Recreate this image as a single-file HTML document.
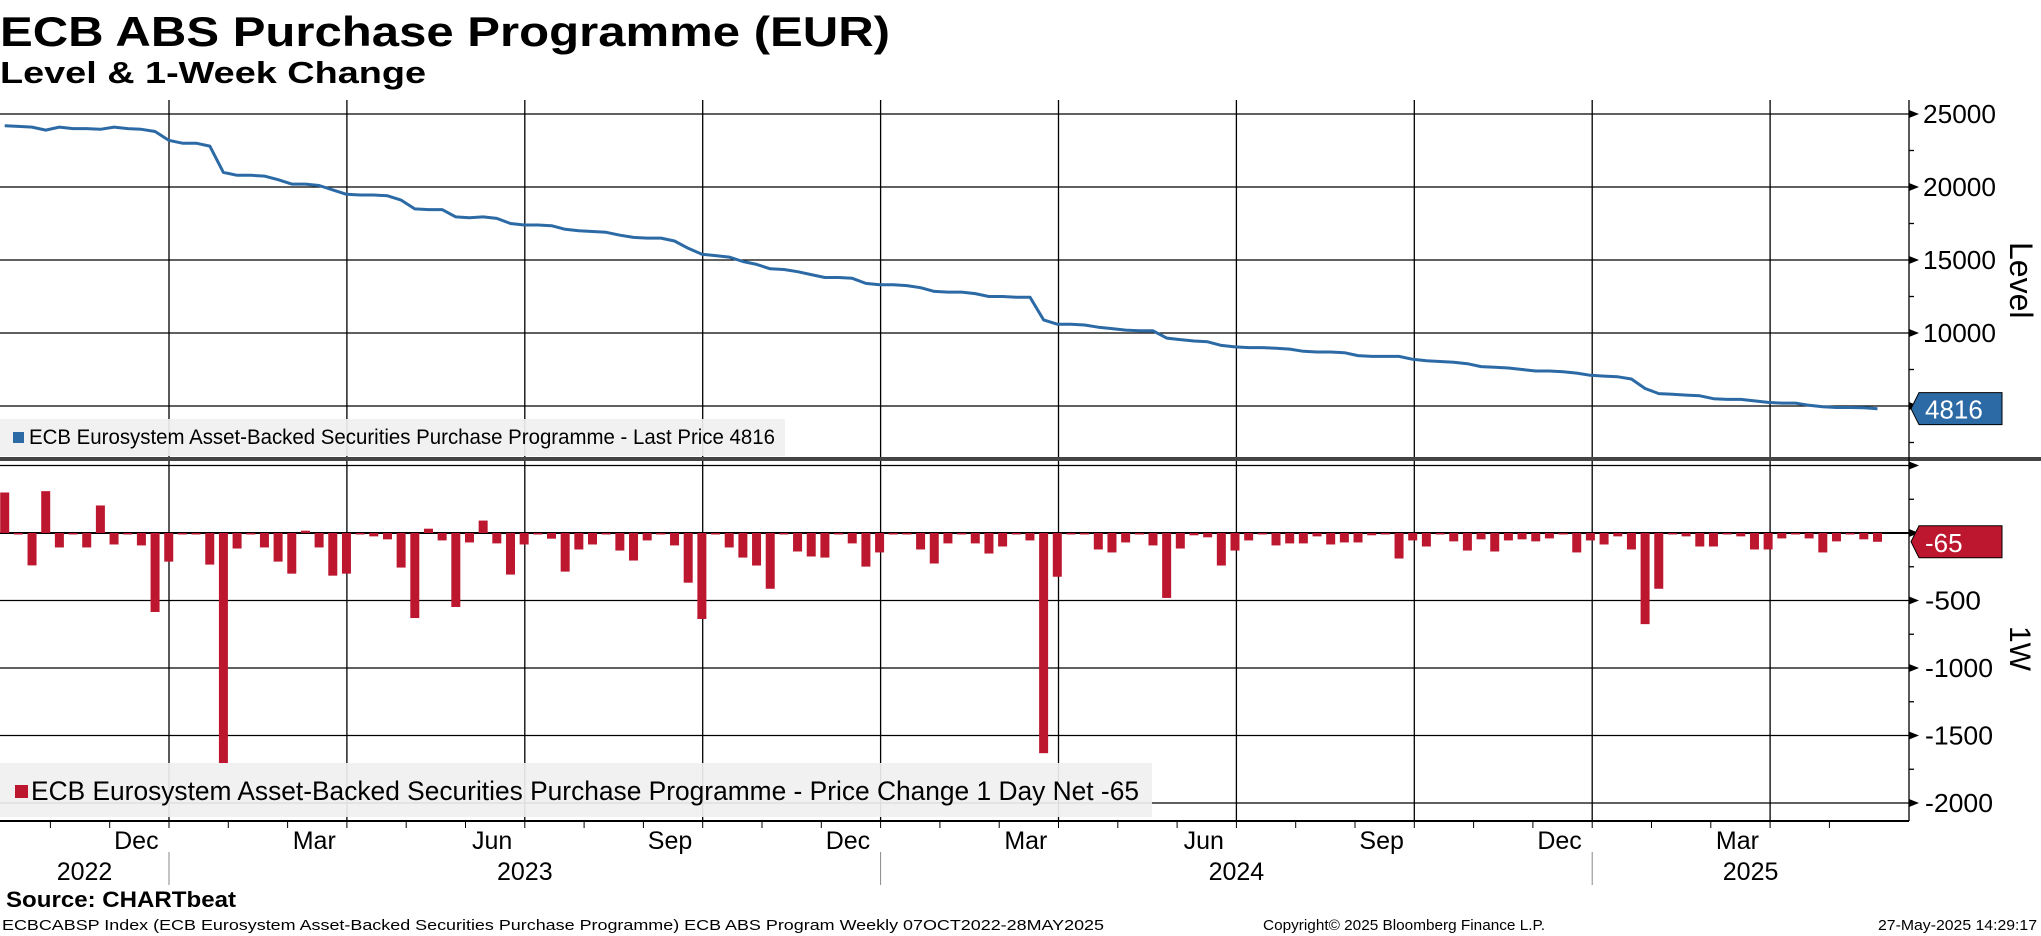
<!DOCTYPE html>
<html><head><meta charset="utf-8"><title>ECB ABS Purchase Programme</title>
<style>
html,body{margin:0;padding:0;background:#fff;}
svg{display:block;font-family:"Liberation Sans",sans-serif;}
</style></head>
<body>
<svg id="chart" width="2041" height="936" viewBox="0 0 2041 936" xmlns="http://www.w3.org/2000/svg">
<text x="0" y="46" font-size="42" font-weight="bold" textLength="890" lengthAdjust="spacingAndGlyphs">ECB ABS Purchase Programme (EUR)</text>
<text x="0" y="83" font-size="31" font-weight="bold" textLength="426" lengthAdjust="spacingAndGlyphs">Level &amp; 1-Week Change</text>
<g id="grid"></g>
<g id="marks"></g>
<g id="axes"></g>
<text x="6" y="907" font-size="22" font-weight="bold" textLength="230" lengthAdjust="spacingAndGlyphs">Source: CHARTbeat</text>
<text x="2" y="930" font-size="15" textLength="1102" lengthAdjust="spacingAndGlyphs">ECBCABSP Index (ECB Eurosystem Asset-Backed Securities Purchase Programme) ECB ABS Program  Weekly 07OCT2022-28MAY2025</text>
<text x="1263" y="930" font-size="15" textLength="282" lengthAdjust="spacingAndGlyphs">Copyright© 2025 Bloomberg Finance L.P.</text>
<text x="1878" y="930" font-size="15" textLength="159" lengthAdjust="spacingAndGlyphs">27-May-2025 14:29:17</text>
</svg>
<script>
const levels = [24200,24150,24100,23900,24100,24000,24000,23950,24100,24000,23950,23800,23200,23000,23000,22800,21000,20800,20800,20750,20500,20200,20200,20100,19800,19500,19450,19450,19400,19100,18500,18450,18450,17950,17900,17950,17850,17500,17400,17400,17350,17100,17000,16950,16900,16700,16550,16500,16500,16300,15800,15400,15300,15200,14900,14700,14400,14350,14200,14000,13800,13800,13750,13400,13300,13300,13250,13100,12850,12800,12800,12700,12500,12500,12450,12450,10900,10600,10600,10550,10400,10300,10200,10150,10150,9650,9550,9450,9400,9150,9050,9000,9000,8950,8900,8750,8700,8700,8650,8450,8400,8400,8400,8200,8100,8050,8000,7900,7700,7650,7600,7500,7400,7400,7350,7250,7100,7050,7000,6850,6200,5850,5800,5750,5700,5500,5450,5450,5350,5250,5200,5200,5050,4950,4900,4900,4880,4816];
const changes = [300,-10,-240,310,-107,0,-107,204,-85,-10,-92,-585,-212,0,-10,-234,-1706,-115,0,-107,-212,-301,17,-107,-316,-301,0,-25,-47,-256,-630,32,-55,-548,-70,92,-77,-308,-85,0,-42,-286,-122,-85,0,-130,-204,-55,0,-92,-368,-637,-10,-107,-182,-241,-413,0,-137,-174,-182,0,-77,-249,-144,0,0,-122,-226,-77,0,-77,-152,-100,0,-55,-1631,-324,0,-10,-122,-144,-70,0,-92,-481,-115,-17,-32,-241,-130,-55,0,-92,-77,-77,-25,-85,-70,-70,-17,0,-189,-55,-100,0,-62,-130,-47,-137,-55,-47,-62,-40,0,-144,-55,-85,-25,-122,-675,-413,0,-25,-100,-100,-10,-25,-122,-122,-40,0,-40,-144,-62,-10,-47,-65];
const levelTicks = [25000,20000,15000,10000,5000];
const changeTicks = [0,-500,-1000,-1500,-2000];
const monthLabels = ["Dec","Mar","Jun","Sep","Dec","Mar","Jun","Sep","Dec","Mar"];
const yearLabels = ["2022","2023","2024","2025"];
const lastLevelLabel = "4816";
const lastChangeLabel = "-65";

const NS="http://www.w3.org/2000/svg";
const grid=document.getElementById('grid'), marks=document.getElementById('marks'), axes=document.getElementById('axes');
function mk(tag,attrs,parent,txt){const e=document.createElementNS(NS,tag);for(const k in attrs)e.setAttribute(k,attrs[k]);if(txt!==undefined)e.textContent=txt;parent.appendChild(e);return e;}
const AX=1909, PX0=0;
const xW = i => 4.7 + 13.67*i;           // week index -> x
const JAN23=169, PXM=59.3;
const xM = m => JAN23 + PXM*m;          // months since Jan 2023 -> x
const yL = v => 406 - (v-5000)*73/5000;
const yC = v => 533 - v*67.5/500;

// vertical gridlines (quarters)
for(let q=0;q<10;q++){const x=xM(q*3);
  const l=mk('line',{x1:x,y1:100,x2:x,y2:821,stroke:'#000','stroke-width':1.3},grid);
  
  }
// horizontal gridlines top
levelTicks.forEach(v=>{const l=mk('line',{x1:0,y1:yL(v),x2:AX,y2:yL(v),stroke:'#000','stroke-width':1.3},grid);
  
  });
changeTicks.forEach(v=>{const l=mk('line',{x1:0,y1:yC(v),x2:AX,y2:yC(v),stroke:'#000','stroke-width':v===0?2:1.3},grid);
  
  });
mk('line',{x1:0,y1:yC(500),x2:AX,y2:yC(500),stroke:'#000','stroke-width':1.3},grid);
// separator
const sep=mk('rect',{x:0,y:457,width:2041,height:4,fill:'#444'},grid);



// bars
changes.forEach((v,i)=>{const y0=yC(0),y1=yC(v);
  const r=mk('rect',{x:xW(i)-4.5,y:Math.min(y0,y1),width:9,height:Math.max(1.5,Math.abs(y1-y0)),fill:'#bd162f'},marks);
  
  });
// line
const pts=levels.map((v,i)=>xW(i).toFixed(1)+','+yL(v).toFixed(1)).join(' ');
const pl=mk('polyline',{points:pts,fill:'none',stroke:'#2c6aa6','stroke-width':3,'stroke-linejoin':'round'},marks);



// legends
const lg1=mk('g',{},marks);


mk('rect',{x:0,y:419,width:785,height:37,fill:'#f0f0f0','fill-opacity':0.92},lg1);
mk('rect',{x:13,y:432,width:11,height:11,fill:'#2c6aa6'},lg1);
mk('text',{x:29,y:444,'font-size':21,textLength:746,lengthAdjust:'spacingAndGlyphs'},lg1,'ECB Eurosystem Asset-Backed Securities Purchase Programme - Last Price '+lastLevelLabel);
const lg2=mk('g',{},marks);


mk('rect',{x:0,y:763,width:1152,height:54,fill:'#f0f0f0','fill-opacity':0.92},lg2);
mk('rect',{x:15,y:785,width:13,height:13,fill:'#bd162f'},lg2);
mk('text',{x:31,y:800,'font-size':27,textLength:1108,lengthAdjust:'spacingAndGlyphs'},lg2,'ECB Eurosystem Asset-Backed Securities Purchase Programme - Price Change 1 Day Net '+lastChangeLabel);

// right axis
mk('line',{x1:AX,y1:100,x2:AX,y2:821,stroke:'#000','stroke-width':1.3},axes);
function arrow(y){mk('polygon',{points:`${AX},${y-4} ${AX+10},${y} ${AX},${y+4}`,fill:'#000'},axes);}
levelTicks.forEach(v=>{const y=yL(v);arrow(y);
  const t=mk('text',{x:1923,y:y+9,'font-size':26,textLength:v>=10000?73:58,lengthAdjust:'spacingAndGlyphs'},axes,String(v));
  
  });
[22500,17500,12500,7500,2500].forEach(v=>mk('line',{x1:AX,y1:yL(v),x2:AX+5,y2:yL(v),stroke:'#000','stroke-width':1.3},axes));
changeTicks.forEach(v=>{const y=yC(v);arrow(y);if(v===0)return;
  const s=String(v);
  const t=mk('text',{x:1925,y:y+9,'font-size':26,textLength:s.length===4?56:68,lengthAdjust:'spacingAndGlyphs'},axes,s);
  
  });
arrow(yC(500));
[250,-250,-750,-1250,-1750].forEach(v=>mk('line',{x1:AX,y1:yC(v),x2:AX+5,y2:yC(v),stroke:'#000','stroke-width':1.3},axes));
// axis titles
const t1=mk('text',{x:0,y:0,'font-size':32,transform:'translate(2010,242) rotate(90)'},axes,'Level');


const t2=mk('text',{x:0,y:0,'font-size':30,transform:'translate(2010,626) rotate(90)'},axes,'1W');


// last value tags
function tag(y,fill,label,name){const g=mk('g',{},axes);
  
  
  mk('polygon',{points:`${AX+2},${y} ${AX+10},${y-16} 2002,${y-16} 2002,${y+16} ${AX+10},${y+16}`,fill:fill,stroke:'#000','stroke-width':1},g);
  mk('text',{x:1925,y:y+10,'font-size':26,fill:'#fff'},g,label);}
tag(yL(levels[levels.length-1]),'#2c6aa6',lastLevelLabel,'last-level-tag');
tag(yC(changes[changes.length-1]),'#bd162f',lastChangeLabel,'last-change-tag');

// bottom date axis
mk('line',{x1:0,y1:821,x2:AX,y2:821,stroke:'#000','stroke-width':2},axes);
for(let m=-2;m<=16+12;m++){const x=xM(m);if(x<0||x>AX)continue;
  mk('line',{x1:x,y1:821,x2:x,y2:828,stroke:'#000','stroke-width':1},axes);}
monthLabels.forEach((s,k)=>{const m=-1+3*k;const x=xM(m)+PXM/2-3;
  const t=mk('text',{x:x,y:849,'font-size':25,'text-anchor':'middle'},axes,s);
  
  });
const yearCenters=[JAN23/2, xM(6), xM(18), (xM(24)+AX)/2];
yearLabels.forEach((s,k)=>{const t=mk('text',{x:yearCenters[k],y:880,'font-size':25,'text-anchor':'middle'},axes,s);
  
  });
[0,12,24].forEach(m=>mk('line',{x1:xM(m),y1:852,x2:xM(m),y2:885,stroke:'#888','stroke-width':1},axes));
</script>
</body></html>
